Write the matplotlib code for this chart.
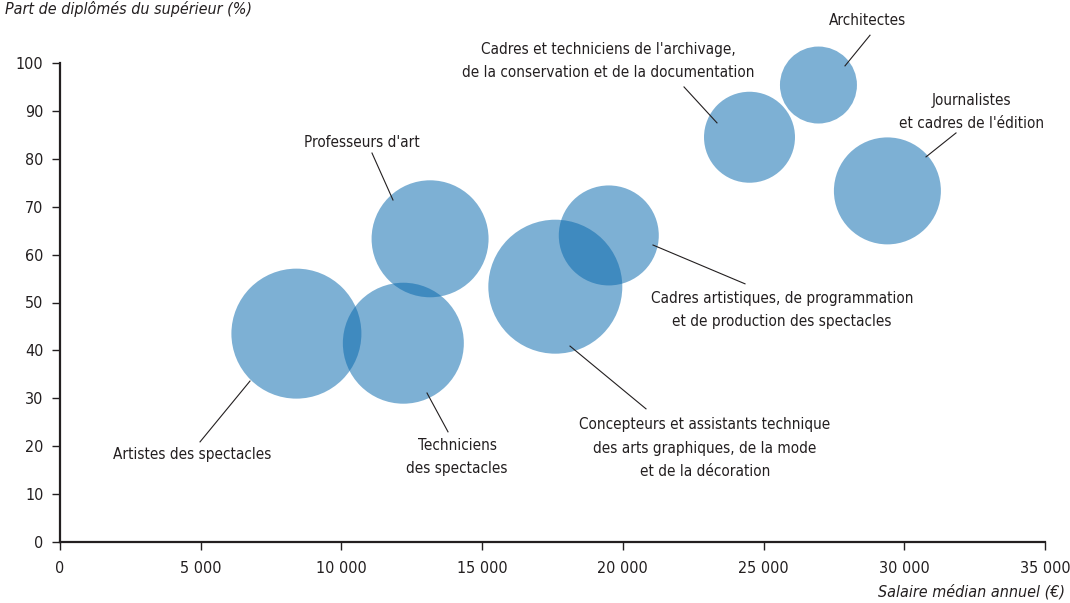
import matplotlib
matplotlib.use('Agg')
import matplotlib.pyplot as plt
from matplotlib import font_manager
from matplotlib.ticker import FuncFormatter

# Metiers de la culture : salaire median vs part de diplomes du superieur
metiers = [
    "Artistes des spectacles",
    "Techniciens\ndes spectacles",
    "Professeurs d'art",
    "Concepteurs et assistants technique\ndes arts graphiques, de la mode\net de la décoration",
    "Cadres artistiques, de programmation\net de production des spectacles",
    "Cadres et techniciens de l'archivage,\nde la conservation et de la documentation",
    "Architectes",
    "Journalistes\net cadres de l'édition",
]
salaire = [8400, 12200, 13150, 17600, 19500, 24500, 26950, 29400]
diplomes = [43.5, 41.5, 63.3, 53.3, 64.0, 84.5, 95.4, 73.3]
taille = [8761, 7588, 7095, 9306, 5184, 4292, 3073, 5934]  # aire des bulles

# position des etiquettes et des traits de rappel (coordonnees donnees)
label_pos = [(4690, 18.2), (14107, 17.7), (10731, 83.3), (22919, 19.6),
             (25655, 48.4), (19472, 100.4), (28711, 108.8), (32406, 89.8)]
leader = [((6751, 33.6), (4975, 20.9)),
          ((13041, 31.1), (13787, 23.0)),
          ((11086, 81.2), (11832, 71.4)),
          ((18122, 40.9), (20822, 27.8)),
          ((21071, 62.0), (24340, 53.9)),
          ((22173, 95.0), (23345, 87.5)),
          ((28782, 105.8), (27893, 99.4)),
          ((31838, 85.4), (30772, 80.4))]

# chercher une police etroite installee
narrow = None
for f in font_manager.fontManager.ttflist:
    if f.stretch in ('condensed', 'semi-condensed') or 'Narrow' in f.name or 'Condensed' in f.name:
        if f.style == 'normal' and f.weight in (400, 'normal'):
            narrow = f
            break
fs = 11
if narrow is not None:
    plt.rcParams['font.family'] = [narrow.name, 'DejaVu Sans']
    plt.rcParams['font.stretch'] = narrow.stretch
else:
    plt.rcParams['font.family'] = ['Liberation Sans', 'DejaVu Sans']
    fs = 10.5
dark = '#231f20'

fig = plt.figure(figsize=(10.7, 6.03), dpi=100)
ax = fig.add_axes([60 / 1070, 1 - 542 / 603, 985 / 1070, 479 / 603])

ax.scatter(salaire, diplomes, s=taille, color='#0768ad', alpha=0.52,
           linewidths=0, clip_on=False, zorder=2)

for lab, (tx, ty), (p0, p1) in zip(metiers, label_pos, leader):
    ax.plot([p0[0], p1[0]], [p0[1], p1[1]], color=dark, lw=0.8,
            clip_on=False, zorder=3)
    ax.text(tx, ty, lab, ha='center', va='center', fontsize=fs,
            color=dark, linespacing=1.7, zorder=4)

ax.set_xlim(0, 35000)
ax.set_ylim(0, 100)
ax.set_xticks(range(0, 35001, 5000))
ax.set_yticks(range(0, 101, 10))
ax.xaxis.set_major_formatter(FuncFormatter(lambda v, p: f"{int(v):,}".replace(",", " ")))

for s in ['top', 'right']:
    ax.spines[s].set_visible(False)
for s in ['left', 'bottom']:
    ax.spines[s].set_linewidth(1.6)
    ax.spines[s].set_color(dark)
ax.tick_params(length=6, width=1, color=dark, labelcolor=dark, labelsize=fs + 0.5)
ax.tick_params(axis='y', pad=6)
ax.tick_params(axis='x', pad=8)

fig.text(0.005, 1 - 9 / 603, "Part de diplômés du supérieur (%)", style='italic',
         fontsize=fs + 0.5, color=dark, ha='left', va='center')
fig.text(1065 / 1070, 1 - 592 / 603, "Salaire médian annuel (€)", style='italic',
         fontsize=fs + 0.5, color=dark, ha='right', va='center')

fig.savefig('out.png', dpi=100)
